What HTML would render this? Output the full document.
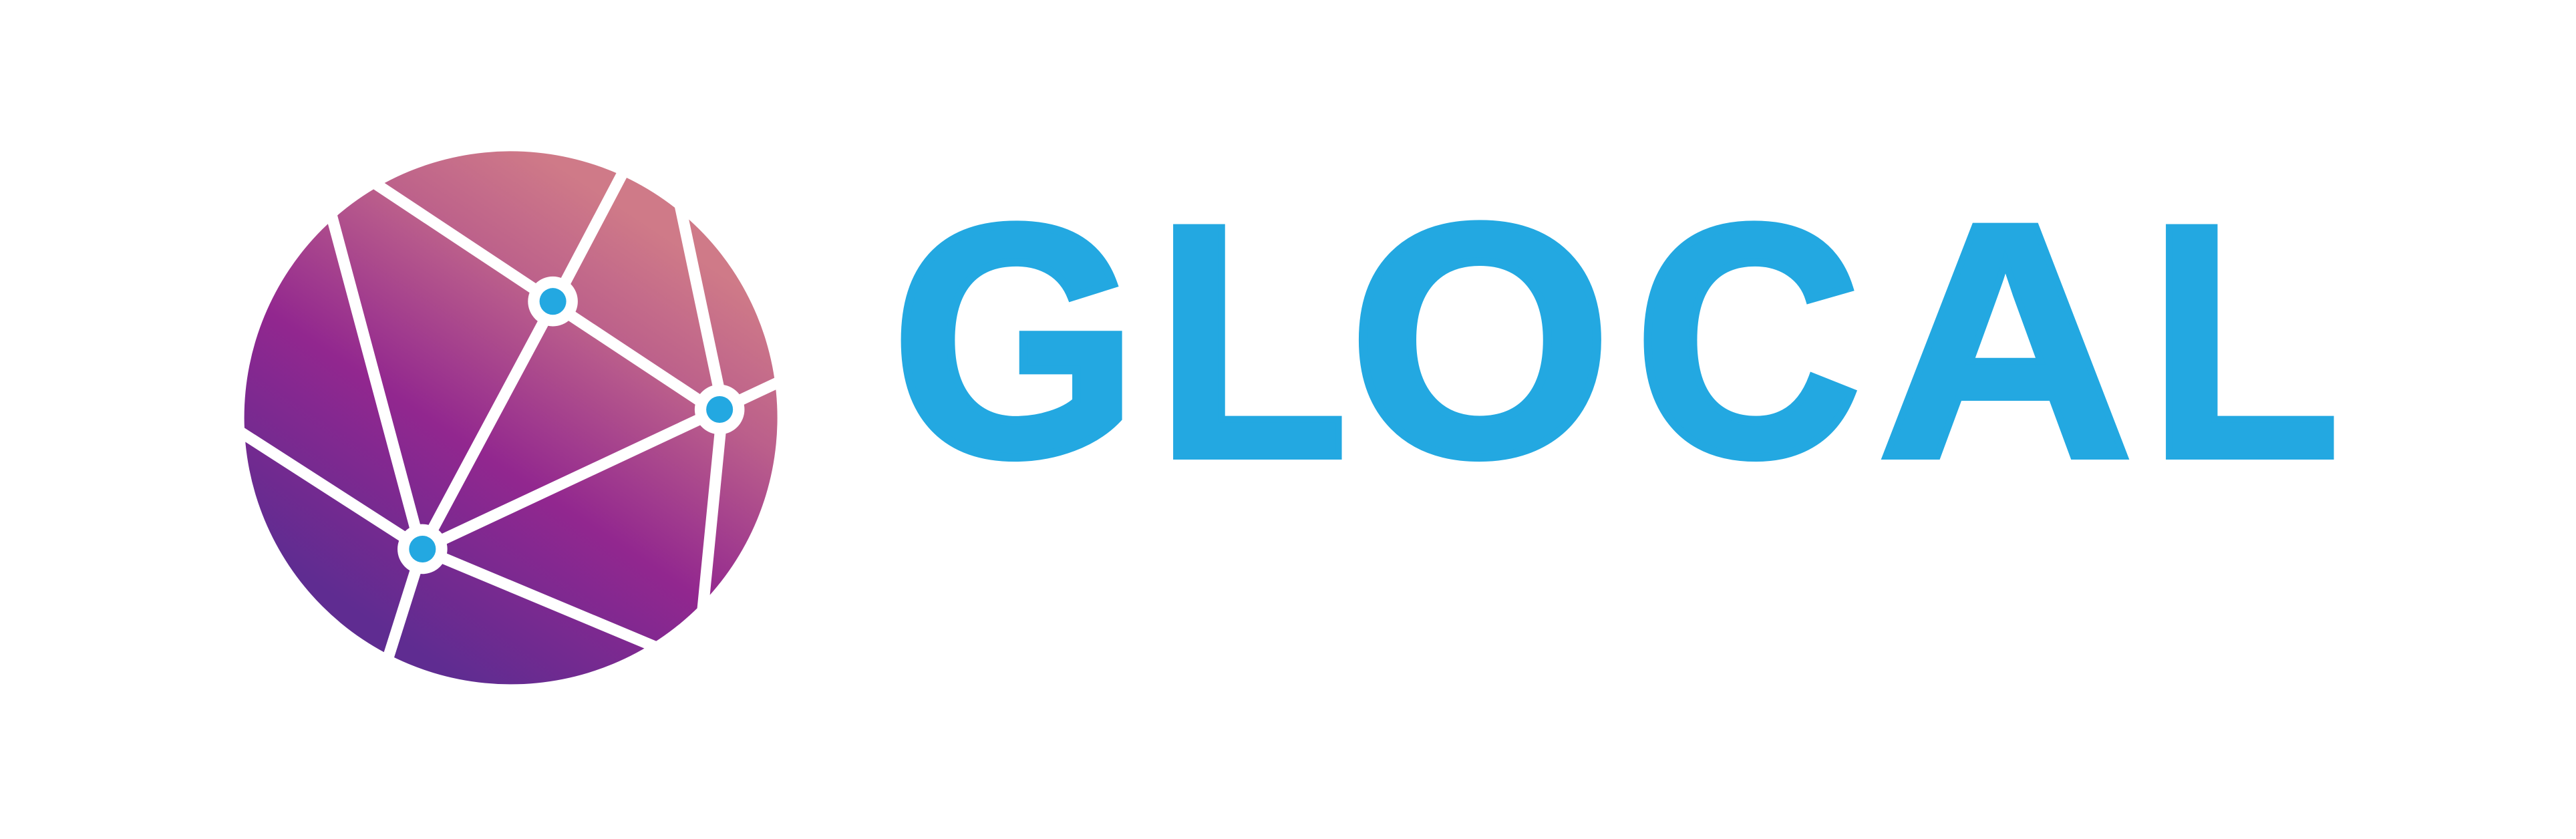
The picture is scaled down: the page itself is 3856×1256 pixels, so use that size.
<!DOCTYPE html>
<html lang="en">
<head>
<meta charset="utf-8">
<title>GLOCAL logo</title>
<style>
  html, body { margin: 0; padding: 0; background: #ffffff; }
  body { width: 3856px; height: 1256px; overflow: hidden; }
  svg { display: block; }
  .letter {
    font-family: "Liberation Sans", sans-serif;
    font-weight: 700;
    font-size: 1000px;
    fill: #23a8e1;
    stroke: #23a8e1;
    stroke-linejoin: miter;
  }
</style>
</head>
<body>
<svg xmlns="http://www.w3.org/2000/svg" width="3856" height="1256" viewBox="0 0 3856 1256">
  <defs>
    <linearGradient id="globeGradient" gradientUnits="userSpaceOnUse" x1="888.5" y1="282" x2="489" y2="885">
      <stop offset="0" stop-color="#cf7a88"/>
      <stop offset="0.25" stop-color="#bb5f8b"/>
      <stop offset="0.585" stop-color="#92278f"/>
      <stop offset="1" stop-color="#5f2c91"/>
    </linearGradient>
  </defs>
  <rect x="0" y="0" width="3856" height="1256" fill="#ffffff"/>

  <g>
    <circle cx="764.6" cy="625.4" r="399" fill="url(#globeGradient)"/>
    <g transform="translate(340 200) scale(0.54847)">
      <g stroke="#ffffff" stroke-width="31" fill="none">
        <line x1="895" y1="458" x2="1090" y2="88"/>
        <line x1="889" y1="458" x2="390" y2="127"/>
        <line x1="894" y1="458" x2="532" y2="1134"/>
        <line x1="889" y1="464" x2="1344" y2="765"/>
        <line x1="1344" y1="754" x2="533" y2="1134"/>
        <line x1="533" y1="1134" x2="20" y2="804"/>
        <line x1="529" y1="1134" x2="280" y2="205"/>
        <line x1="533" y1="1134" x2="430" y2="1460"/>
        <line x1="533" y1="1135" x2="1200" y2="1414"/>
        <line x1="1354" y1="753" x2="1235" y2="190"/>
        <line x1="1344" y1="754" x2="1540" y2="662"/>
        <line x1="1352" y1="753" x2="1296" y2="1320"/>
      </g>
      <circle cx="889" cy="458" r="68" fill="#ffffff"/>
      <circle cx="889" cy="458" r="36.5" fill="#23a8e1"/>
      <circle cx="1344" cy="753" r="68" fill="#ffffff"/>
      <circle cx="1344" cy="753" r="36.5" fill="#23a8e1"/>
      <circle cx="533" cy="1134" r="68" fill="#ffffff"/>
      <circle cx="533" cy="1134" r="36.5" fill="#23a8e1"/>
    </g>
  </g>

  <g>
    <text class="letter" id="l0">G</text>
    <text class="letter" id="l1">L</text>
    <text class="letter" id="l2">O</text>
    <text class="letter" id="l3">C</text>
    <text class="letter" id="l4">A</text>
    <text class="letter" id="l5">L</text>
  </g>
</svg>
<script>
  // Ink box of each wordmark letter: left, right, top, bottom, outline thickening in font units.
  var letterBoxes = [
    [1344, 1681, 328, 694, 26],
    [1754, 2015, 328, 688, 20],
    [2029, 2404, 327, 694, 26],
    [2456, 2782, 328, 694, 26],
    [2813, 3189, 326, 688, 20],
    [3240, 3500, 328, 688, 20]
  ];
  var ctx = document.createElement('canvas').getContext('2d');
  ctx.font = 'bold 1000px "Liberation Sans", sans-serif';
  letterBoxes.forEach(function (box, i) {
    var el = document.getElementById('l' + i);
    var m = ctx.measureText(el.textContent);
    var inkL = -m.actualBoundingBoxLeft, inkR = m.actualBoundingBoxRight;
    var inkT = -m.actualBoundingBoxAscent, inkB = m.actualBoundingBoxDescent;
    var w = box[4];
    var sx = (box[1] - box[0]) / (inkR - inkL + w);
    var sy = (box[3] - box[2]) / (inkB - inkT + w);
    var tx = box[0] + sx * (w / 2 - inkL);
    var ty = box[2] + sy * (w / 2 - inkT);
    el.setAttribute('transform', 'translate(' + tx + ' ' + ty + ') scale(' + sx + ' ' + sy + ')');
    el.style.strokeWidth = w + 'px';
  });
</script>
</body>
</html>
